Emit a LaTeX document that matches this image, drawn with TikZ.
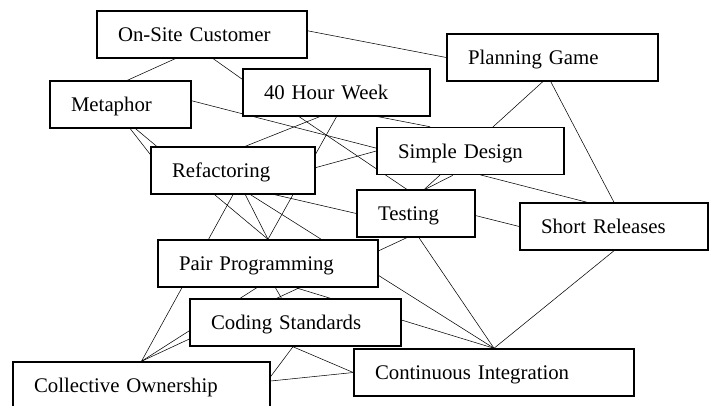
\documentclass[tikz,border=0pt]{standalone}
\usepackage{fontspec}
\setmainfont{Liberation Serif}
\usepackage{tikz}
\usetikzlibrary{backgrounds}

\tikzset{
  practice/.style={draw, fill=white, line width=1.1pt, inner xsep=15.75pt, inner ysep=0pt,
    minimum height=35.25pt, align=left, text height=14pt, text depth=2.8pt,
    font=\fontsize{15.6}{18}\selectfont},
  link/.style={line width=1pt}
}

\begin{document}
\begin{tikzpicture}[x=0.75pt, y=-0.75pt]
    \useasboundingbox (0,0) rectangle (714,405);
    \clip (0,0) rectangle (714,405);

    \node[practice, text width=126pt] (osc) at (202,34.5) {On-Site Customer};
    \node[practice, text width=74.25pt] (met) at (120.5,104.5) {Metaphor};
    \node[practice, text width=108.75pt] (fhw) at (336.5,92.5) {40 Hour Week};
    \node[practice, text width=126.75pt] (pg) at (552.5,57.5) {Planning Game};
    \node[practice, text width=91.5pt] (ref) at (233,170.5) {Refactoring};
    \node[practice, text width=108.75pt] (sd) at (470.5,151) {Simple Design};
    \node[practice, text width=57pt] (test) at (416,213.5) {Testing};
    \node[practice, text width=109.5pt] (sr) at (614,226.5) {Short Releases};
    \node[practice, text width=133.5pt] (pp) at (268,263.5) {Pair Programming};
    \node[practice, text width=126.75pt] (cs) at (295.5,322.5) {Coding Standards};
    \node[practice, text width=161.25pt] (co) at (141.5,385.5) {Collective Ownership};
    \node[practice, text width=178.5pt] (ci) at (494,372.5) {Continuous Integration};

    \begin{scope}[on background layer, link]
      \draw (osc.2) -- (pg.west);
      \draw (osc.-138) -- (met.74);
      \draw (osc.-65) -- (fhw.172);
      \draw (met.3) -- (sr.138);
      \draw (met.-68) -- (ref.169);
      \draw (met.-58) -- (pp.north);
      \draw (fhw.-125) -- (ref.63);
      \draw (fhw.south) -- (pp.north);
      \draw (fhw.-147) -- (test.111);
      \draw (fhw.-30) -- (sd.149);
      \draw (ref) -- (pp.north);
      \draw (ref.south) -- (co.north);
      \draw (ref.-54) -- (ci.north);
      \draw (ref.-30) -- (test.west);
      \draw (ref.2) -- (sd.west);
      \draw (pg.-112) -- (test.71);
      \draw (pg.-94) -- (sr.north);
      \draw (sd.-126) -- (test.69);
      \draw (test.-2) -- (sr.west);
      \draw (test.-83) -- (ci.north);
      \draw (test.-111) -- (co.north);
      \draw (pp.-115) -- (co.north);
      \draw (pp.-73) -- (cs.120);
      \draw (pp.-41) -- (ci.north);
      \draw (cs.-96) -- (co.4);
      \draw (cs.-96) -- (ci.west);
      \draw (co.2) -- (ci.west);
      \draw (sr.south) -- (ci.north);
    \end{scope}
\end{tikzpicture}
\end{document}
